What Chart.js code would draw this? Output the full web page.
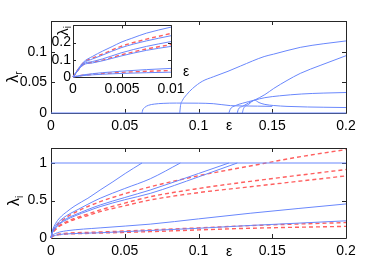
<!DOCTYPE html>
<html lang="en">
<head>
    <meta charset="UTF-8">
    <title>Eigenvalues vs epsilon</title>
    <script src="https://cdn.jsdelivr.net/npm/chart.js@4.4.3/dist/chart.umd.min.js"></script>
    <style>
        html, body { margin: 0; padding: 0; background: #fff; }
        #fig { position: relative; width: 382px; height: 273px; }
        #fig canvas { position: absolute; }
    </style>
</head>
<body>
<div id="fig">
    <canvas id="topChart" width="382" height="135" style="left:0px;top:0px"></canvas>
    <canvas id="bottomChart" width="382" height="138" style="left:0px;top:135px"></canvas>
    <canvas id="insetChart" width="160" height="85" style="left:40px;top:15px"></canvas>
</div>
<script>
// tick labels
const epsTicks = [0, 0.05, 0.1, 0.15, 0.2];
const lrTicks = [0, 0.05, 0.1];
const liTicks = [0, 0.5, 1];
const insetEpsTicks = [0, 0.005, 0.01];
const insetTicks = [0, 0.1, 0.2];

// top panel: real parts (eps, lambda_r)
const lrFlat = [[0, 0], [0.2, 0]];
const lrOnsetA = [[0.0617, 0], [0.0622, 0.005], [0.0635, 0.009], [0.066, 0.0125], [0.07, 0.0145], [0.076, 0.0157], [0.085, 0.0162], [0.1, 0.016], [0.11, 0.0152], [0.1217, 0.012], [0.13, 0.0115], [0.14, 0.0112], [0.15, 0.0108]];
const lrBig = [[0.0873, 0], [0.0878, 0.012], [0.089, 0.02], [0.092, 0.03], [0.096, 0.04], [0.1025, 0.0516], [0.11, 0.059], [0.12, 0.068], [0.1285, 0.0766], [0.1445, 0.092], [0.151, 0.096], [0.169, 0.107], [0.185, 0.113], [0.2, 0.1175]];
const lrC1 = [[0.1206, 0], [0.1215, 0.006], [0.125, 0.012], [0.13, 0.016], [0.138, 0.021], [0.145, 0.025], [0.155, 0.028], [0.17, 0.031], [0.185, 0.0325], [0.2, 0.0334]];
const lrC2 = [[0.1263, 0], [0.127, 0.006], [0.13, 0.011], [0.134, 0.0165], [0.138, 0.021], [0.145, 0.03], [0.151, 0.04], [0.16, 0.053], [0.169, 0.0646], [0.183, 0.078], [0.2, 0.0934]];
const lrC3 = [[0.1297, 0], [0.1305, 0.007], [0.134, 0.014], [0.138, 0.021], [0.141, 0.017], [0.145, 0.014], [0.151, 0.0122], [0.16, 0.0108], [0.174, 0.0098], [0.185, 0.0094], [0.2, 0.0089]];

// inset: small eps
const inTopB1 = [[0, 0], [0.00104, 0.085], [0.002, 0.12], [0.003, 0.15], [0.004, 0.177], [0.0049, 0.202], [0.006, 0.225], [0.0075, 0.255], [0.01, 0.29]];
const inTopR = [[0, 0], [0.00104, 0.082], [0.002, 0.11], [0.003, 0.133], [0.0049, 0.178], [0.0075, 0.22], [0.01, 0.253]];
const inTopB2 = [[0, 0], [0.00104, 0.08], [0.002, 0.105], [0.003, 0.127], [0.0049, 0.17], [0.0075, 0.21], [0.01, 0.24]];
const inMidB1 = [[0, 0], [0.00104, 0.075], [0.002, 0.09], [0.003, 0.105], [0.0049, 0.14], [0.0075, 0.178], [0.01, 0.206]];
const inMidR = [[0, 0], [0.00104, 0.072], [0.002, 0.085], [0.003, 0.098], [0.0049, 0.128], [0.0075, 0.163], [0.01, 0.188]];
const inMidB2 = [[0, 0], [0.00104, 0.07], [0.002, 0.082], [0.003, 0.094], [0.0049, 0.122], [0.0075, 0.155], [0.01, 0.178]];
const inLowB1 = [[0, 0], [0.001, 0.012], [0.003, 0.025], [0.005, 0.034], [0.0075, 0.043], [0.01, 0.05]];
const inLowR = [[0, 0], [0.001, 0.01], [0.003, 0.02], [0.005, 0.027], [0.0075, 0.033], [0.01, 0.038]];
const inLowB2 = [[0, 0], [0.001, 0.008], [0.003, 0.016], [0.005, 0.021], [0.0075, 0.025], [0.01, 0.028]];

// bottom panel: imaginary parts (eps, lambda_i)
const liOne = [[0, 1], [0.2, 1]];
const liA = [[0, 0], [0.001, 0.1], [0.003, 0.19], [0.006, 0.27], [0.0107, 0.35], [0.0163, 0.43], [0.025, 0.53], [0.0333, 0.64], [0.042, 0.75], [0.0503, 0.86], [0.0617, 1]];
const liB = [[0, 0], [0.001, 0.085], [0.003, 0.16], [0.006, 0.23], [0.0107, 0.3], [0.0163, 0.36], [0.025, 0.45], [0.0333, 0.53], [0.05, 0.66], [0.0673, 0.79], [0.0877, 1]];
const liC1 = [[0, 0], [0.001, 0.075], [0.003, 0.14], [0.006, 0.2], [0.0107, 0.26], [0.0163, 0.31], [0.025, 0.38], [0.0333, 0.44], [0.05, 0.54], [0.0673, 0.64], [0.1, 0.86], [0.1206, 1]];
const liC2 = [[0, 0], [0.001, 0.07], [0.003, 0.13], [0.006, 0.19], [0.0107, 0.245], [0.0163, 0.295], [0.025, 0.36], [0.0333, 0.418], [0.05, 0.51], [0.0673, 0.595], [0.1, 0.815], [0.1263, 1]];
const liLowBlue = [[0, 0], [0.001, 0.035], [0.003, 0.06], [0.006, 0.08], [0.0107, 0.097], [0.0333, 0.135], [0.0673, 0.185], [0.1, 0.255], [0.135, 0.33], [0.2, 0.454]];
const liLowBlue2 = [[0, 0], [0.001, 0.02], [0.003, 0.035], [0.006, 0.047], [0.0107, 0.055], [0.0333, 0.07], [0.0673, 0.1], [0.1, 0.13], [0.135, 0.167], [0.2, 0.229]];
const liRed1 = [[0, 0], [0.001, 0.08], [0.003, 0.15], [0.006, 0.21], [0.0107, 0.28], [0.0163, 0.34], [0.025, 0.42], [0.0333, 0.484], [0.05, 0.59], [0.0673, 0.683], [0.1, 0.83], [0.135, 0.96], [0.165, 1.07], [0.2, 1.18]];
const liRed2 = [[0, 0], [0.001, 0.065], [0.003, 0.12], [0.006, 0.17], [0.0107, 0.22], [0.0163, 0.265], [0.025, 0.32], [0.0333, 0.374], [0.05, 0.465], [0.0673, 0.55], [0.1, 0.66], [0.135, 0.755], [0.2, 0.913]];
const liRed3 = [[0, 0], [0.001, 0.06], [0.003, 0.11], [0.006, 0.16], [0.0107, 0.205], [0.0163, 0.25], [0.025, 0.3], [0.0333, 0.352], [0.05, 0.43], [0.0673, 0.507], [0.1, 0.605], [0.135, 0.683], [0.2, 0.828]];
const liLowRed1 = [[0, 0], [0.001, 0.025], [0.003, 0.042], [0.006, 0.055], [0.0107, 0.064], [0.0333, 0.08], [0.0673, 0.108], [0.1, 0.135], [0.135, 0.165], [0.2, 0.206]];
const liLowRed2 = [[0, 0], [0.001, 0.02], [0.003, 0.035], [0.006, 0.045], [0.0107, 0.052], [0.0333, 0.066], [0.0673, 0.085], [0.1, 0.108], [0.135, 0.13], [0.2, 0.155]];

const FONT = "'Liberation Sans Narrow', 'Liberation Sans', Arial, sans-serif";
const BLUE = 'rgb(105, 135, 252)';
const RED = 'rgb(255, 95, 95)';

Chart.defaults.font.family = FONT;
Chart.defaults.font.size = 14;
Chart.defaults.color = '#000';

const solid = pts => ({
    data: pts.map(p => ({ x: p[0], y: p[1] })),
    borderColor: BLUE, borderWidth: 1, pointRadius: 0,
    cubicInterpolationMode: 'monotone', clip: 3
});
const dashed = pts => ({
    data: pts.map(p => ({ x: p[0], y: p[1] })),
    borderColor: RED, borderWidth: 1.4, borderDash: [4, 3], pointRadius: 0,
    cubicInterpolationMode: 'monotone', clip: 3
});

// draws a label like lambda_r, optionally rotated
function drawLabel(ctx, x, y, main, sub, rotate, size) {
    ctx.save();
    ctx.translate(x, y);
    if (rotate) ctx.rotate(-Math.PI / 2);
    ctx.fillStyle = '#000';
    ctx.textBaseline = 'middle';
    ctx.textAlign = 'left';
    ctx.font = size + 'px ' + FONT;
    const w1 = ctx.measureText(main).width;
    let w2 = 0;
    if (sub) {
        ctx.font = Math.round(size * 0.65) + 'px ' + FONT;
        w2 = ctx.measureText(sub).width;
    }
    const x0 = -(w1 + w2) / 2;
    ctx.font = size + 'px ' + FONT;
    ctx.fillText(main, x0, 0);
    if (sub) {
        ctx.font = Math.round(size * 0.65) + 'px ' + FONT;
        ctx.fillText(sub, x0 + w1, size * 0.3);
    }
    ctx.restore();
}

// matlab-like box with inward ticks, plus axis labels
function decor(labels, tickLen, fillBg) {
    return {
        id: 'decor',
        beforeDatasetsDraw(chart) {
            const { ctx, chartArea: a, scales } = chart;
            ctx.save();
            if (fillBg) {
                ctx.fillStyle = '#fff';
                ctx.fillRect(a.left, a.top, a.right - a.left, a.bottom - a.top);
            }
            ctx.strokeStyle = '#262626';
            ctx.lineWidth = 1;
            ctx.beginPath();
            ctx.rect(Math.round(a.left) + 0.5, Math.round(a.top) + 0.5, Math.round(a.right - a.left), Math.round(a.bottom - a.top));
            scales.x.ticks.forEach(t => {
                const px = Math.round(scales.x.getPixelForValue(t.value)) + 0.5;
                ctx.moveTo(px, a.bottom); ctx.lineTo(px, a.bottom - tickLen);
                ctx.moveTo(px, a.top); ctx.lineTo(px, a.top + tickLen);
            });
            scales.y.ticks.forEach(t => {
                const py = Math.round(scales.y.getPixelForValue(t.value)) + 0.5;
                ctx.moveTo(a.left, py); ctx.lineTo(a.left + tickLen, py);
                ctx.moveTo(a.right, py); ctx.lineTo(a.right - tickLen, py);
            });
            ctx.stroke();
            ctx.restore();
        },
        afterDraw(chart) {
            labels.forEach(l => drawLabel(chart.ctx, l.x, l.y, l.text, l.sub, l.rotate, l.size));
        }
    };
}

function axis(min, max, ticks, size, isX, pad) {
    return {
        type: 'linear', min: min, max: max,
        grid: { display: false, drawTicks: false },
        border: { display: false },
        ticks: { padding: pad, autoSkip: false, maxRotation: 0, callback: v => String(v) },
        afterBuildTicks: s => { s.ticks = ticks.map(v => ({ value: v })); },
        afterFit: s => { if (isX) s.height = size; else s.width = size; }
    };
}

function makeChart(id, datasets, scales, padding, labels, tickLen, fillBg) {
    return new Chart(document.getElementById(id), {
        type: 'line',
        data: { datasets: datasets },
        options: {
            responsive: false,
            animation: false,
            layout: { padding: padding },
            scales: scales,
            plugins: { legend: { display: false }, tooltip: { enabled: false } }
        },
        plugins: [decor(labels, tickLen, fillBg)]
    });
}

makeChart('topChart',
    [lrFlat, lrOnsetA, lrBig, lrC1, lrC2, lrC3].map(solid),
    { x: axis(0, 0.2, epsTicks, 22, true, 5), y: axis(0, 0.15, lrTicks, 51, false, 4) },
    { left: 0, top: 21, right: 36, bottom: 0 },
    [
        { x: 14, y: 77, text: 'λ', sub: 'r', rotate: true, size: 16 },
        { x: 229, y: 126, text: 'ε', sub: '', rotate: false, size: 14 }
    ], 4, false);

makeChart('bottomChart',
    [liOne, liA, liB, liC1, liC2, liLowBlue, liLowBlue2].map(solid)
        .concat([liRed1, liRed2, liRed3, liLowRed1, liLowRed2].map(dashed)),
    { x: axis(0, 0.2, epsTicks, 35, true, 5), y: axis(0, 1.2, liTicks, 51, false, 4) },
    { left: 0, top: 13, right: 36, bottom: 0 },
    [
        { x: 15, y: 66, text: 'λ', sub: 'i', rotate: true, size: 16 },
        { x: 229, y: 117, text: 'ε', sub: '', rotate: false, size: 14 }
    ], 4, false);

makeChart('insetChart',
    [inTopB1, inTopB2, inMidB1, inMidB2, inLowB1, inLowB2].map(solid)
        .concat([inTopR, inMidR, inLowR].map(dashed)),
    { x: axis(0, 0.01, insetEpsTicks, 23, true, 4), y: axis(0, 0.3, insetTicks, 33, false, 2) },
    { left: 0, top: 8, right: 29, bottom: 0 },
    [
        { x: 24, y: 16, text: 'λ', sub: 'i', rotate: true, size: 15 },
        { x: 146, y: 57, text: 'ε', sub: '', rotate: false, size: 14 }
    ], 3, true);
</script>
</body>
</html>
